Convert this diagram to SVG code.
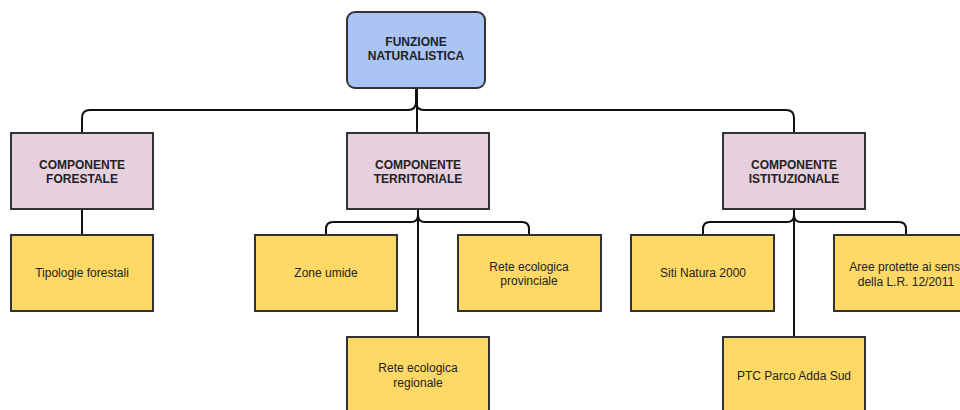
<svg xmlns="http://www.w3.org/2000/svg" width="960" height="410" viewBox="0 0 960 410">
<style>
.box{stroke:#333;stroke-width:2}
.root{fill:#a9c4f5}
.comp{fill:#e6d0de}
.leaf{fill:#ffd966}
.hd{font-family:"Liberation Sans",Arial,sans-serif;font-size:12px;font-weight:bold;fill:#222;text-anchor:middle}
.lf{font-family:"Liberation Sans",Arial,sans-serif;font-size:12px;fill:#222;text-anchor:middle}
.cn{fill:none;stroke:#111;stroke-width:2}
</style>
<rect width="960" height="410" fill="#fff"/>
<g id="connectors">
<path class="cn" d="M416,88 V102 Q416,110 408,110 H90 Q82,110 82,118 V133"/>
<path class="cn" d="M417,88 V133"/>
<path class="cn" d="M416,88 V102 Q416,110 424,110 H786 Q794,110 794,118 V133"/>
<path class="cn" d="M82,209 V235"/>
<path class="cn" d="M418,209 V215 Q418,222 411,222 H333 Q326,222 326,229 V235"/>
<path class="cn" d="M418,209 V215 Q418,222 425,222 H522 Q529,222 529,229 V235"/>
<path class="cn" d="M418,209 V337"/>
<path class="cn" d="M794,209 V215 Q794,222 787,222 H710 Q703,222 703,229 V235"/>
<path class="cn" d="M794,209 V215 Q794,222 801,222 H899 Q906,222 906,229 V235"/>
<path class="cn" d="M794,209 V337"/>
</g>
<g id="root">
<rect class="box root" x="347" y="12" width="138" height="76" rx="8"/>
<text class="hd" x="416" y="46">FUNZIONE</text>
<text class="hd" x="416" y="60">NATURALISTICA</text>
</g>
<g id="forestale">
<rect class="box comp" x="11" y="133" width="142" height="76"/>
<text class="hd" x="82" y="169">COMPONENTE</text>
<text class="hd" x="82" y="183">FORESTALE</text>
</g>
<g id="territoriale">
<rect class="box comp" x="347" y="133" width="142" height="76"/>
<text class="hd" x="418" y="169">COMPONENTE</text>
<text class="hd" x="418" y="183">TERRITORIALE</text>
</g>
<g id="istituzionale">
<rect class="box comp" x="723" y="133" width="142" height="76"/>
<text class="hd" x="794" y="169">COMPONENTE</text>
<text class="hd" x="794" y="183">ISTITUZIONALE</text>
</g>
<g id="tipologie">
<rect class="box leaf" x="11" y="235" width="142" height="76"/>
<text class="lf" x="82" y="277">Tipologie forestali</text>
</g>
<g id="zone-umide">
<rect class="box leaf" x="255" y="235" width="142" height="76"/>
<text class="lf" x="326" y="277">Zone umide</text>
</g>
<g id="rete-provinciale">
<rect class="box leaf" x="458" y="235" width="143" height="76"/>
<text class="lf" x="529" y="271">Rete ecologica</text>
<text class="lf" x="529" y="285">provinciale</text>
</g>
<g id="rete-regionale">
<rect class="box leaf" x="347" y="337" width="142" height="78"/>
<text class="lf" x="418" y="372">Rete ecologica</text>
<text class="lf" x="418" y="387">regionale</text>
</g>
<g id="siti-natura">
<rect class="box leaf" x="631" y="235" width="143" height="76"/>
<text class="lf" x="703" y="277">Siti Natura 2000</text>
</g>
<g id="aree-protette">
<rect class="box leaf" x="834" y="235" width="143" height="76"/>
<text class="lf" x="906" y="271">Aree protette ai sensi</text>
<text class="lf" x="906" y="286">della L.R. 12/2011</text>
</g>
<g id="ptc">
<rect class="box leaf" x="723" y="337" width="142" height="78"/>
<text class="lf" x="794" y="380">PTC Parco Adda Sud</text>
</g>
</svg>
